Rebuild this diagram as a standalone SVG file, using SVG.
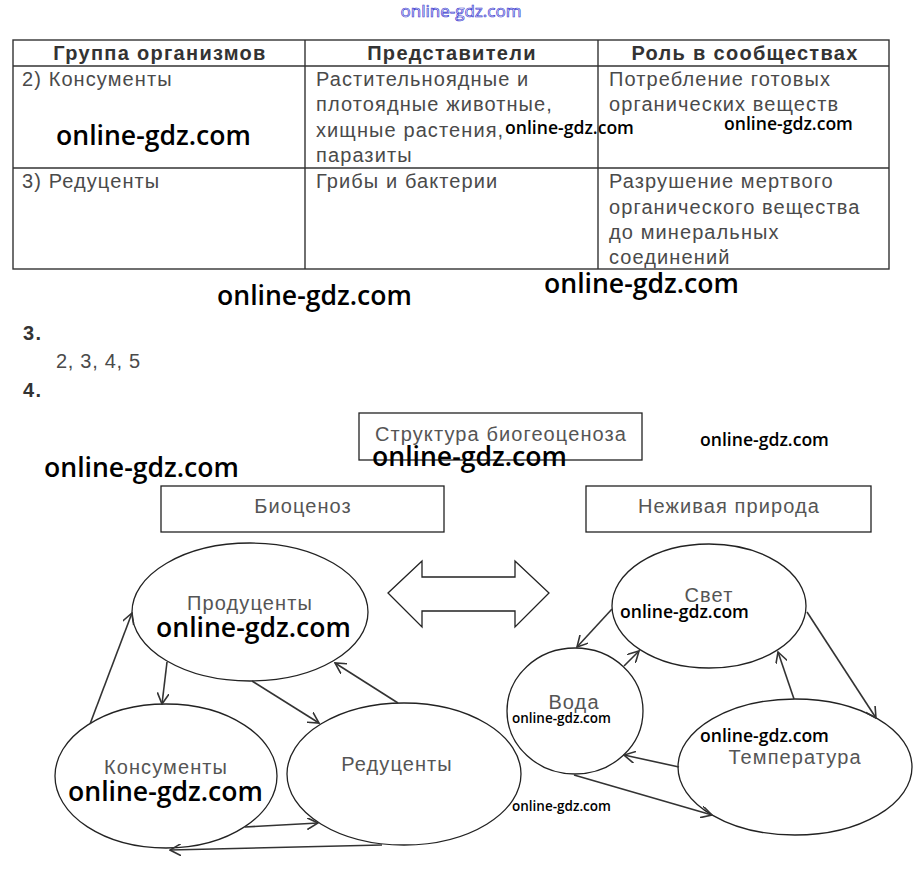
<svg xmlns="http://www.w3.org/2000/svg" width="922" height="873" viewBox="0 0 922 873">
<defs>
<style>
.t{font-family:"Liberation Sans",Arial,sans-serif;font-size:20px;letter-spacing:1.1px;fill:#4a4a4a}
.h{font-family:"Liberation Sans",Arial,sans-serif;font-size:20px;letter-spacing:1.3px;font-weight:bold;fill:#333}
.d{font-family:"Liberation Sans",Arial,sans-serif;font-size:20px;letter-spacing:1.1px;fill:#555;text-anchor:middle}
.wm{font-family:"Open Sans","DejaVu Sans",sans-serif;font-weight:600;fill:#000}
.big{font-size:26.6px}
.mid{font-size:17.6px}
.sm{font-size:13.5px}
.ln{stroke:#333;stroke-width:1.4;fill:none}
.sh{stroke:#222;stroke-width:1.3;fill:#fff}
.ar{stroke:#333;stroke-width:1.6;fill:none;marker-end:url(#v)}
</style>
<marker id="v" viewBox="0 0 12 12" refX="11" refY="6" markerWidth="12" markerHeight="12" markerUnits="userSpaceOnUse" orient="auto">
<path d="M0,0 L11,6 L0,12" fill="none" stroke="#333" stroke-width="1.6"/>
</marker>
</defs>
<rect width="922" height="873" fill="#fff"/>

<text x="461" y="17" text-anchor="middle" font-family="Open Sans, DejaVu Sans, sans-serif" font-size="17" fill="none" stroke="#3a3ad0" stroke-width="0.7">online-gdz.com</text>

<g id="table">
<rect x="13" y="40" width="876" height="229" class="ln"/>
<line x1="13" y1="66" x2="889" y2="66" class="ln"/>
<line x1="13" y1="168" x2="889" y2="168" class="ln"/>
<line x1="305" y1="40" x2="305" y2="269" class="ln"/>
<line x1="598" y1="40" x2="598" y2="269" class="ln"/>
<text x="160" y="60" class="h" text-anchor="middle">Группа организмов</text>
<text x="452" y="60" class="h" text-anchor="middle">Представители</text>
<text x="745" y="60" class="h" text-anchor="middle">Роль в сообществах</text>
<text x="22" y="86" class="t">2) Консументы</text>
<text x="316" y="86" class="t">Растительноядные и</text>
<text x="316" y="111" class="t">плотоядные животные,</text>
<text x="316" y="137" class="t">хищные растения,</text>
<text x="316" y="162" class="t">паразиты</text>
<text x="609" y="86" class="t">Потребление готовых</text>
<text x="609" y="111" class="t">органических веществ</text>
<text x="22" y="188" class="t">3) Редуценты</text>
<text x="316" y="188" class="t">Грибы и бактерии</text>
<text x="609" y="188" class="t">Разрушение мертвого</text>
<text x="609" y="214" class="t">органического вещества</text>
<text x="609" y="239" class="t">до минеральных</text>
<text x="609" y="264" class="t">соединений</text>
</g>

<text x="23" y="340" class="h">3.</text>
<text x="56" y="368" class="t" style="letter-spacing:0.7px">2, 3, 4, 5</text>
<text x="23" y="397" class="h">4.</text>

<g id="structure">
<rect x="359" y="413" width="283" height="47" class="sh"/>
<text x="501" y="441" class="d">Структура биогеоценоза</text>
</g>
<g id="biocenosis">
<rect x="161" y="486" width="283" height="46" class="sh"/>
<text x="303" y="513" class="d">Биоценоз</text>
</g>
<g id="nonliving">
<rect x="586" y="486" width="285" height="46" class="sh"/>
<text x="729" y="513" class="d">Неживая природа</text>
</g>
<g id="double-arrow">
<path d="M388,593 L422,561 L422,577 L515,577 L515,561 L549,593 L515,627 L515,611 L422,611 L422,627 Z" class="sh"/>
</g>

<g id="producers">
<ellipse cx="250" cy="612" rx="118" ry="69" class="sh"/>
<text x="250" y="610" class="d">Продуценты</text>
</g>
<g id="consumers">
<ellipse cx="166" cy="776" rx="111" ry="72" class="sh"/>
<text x="166" y="774" class="d">Консументы</text>
</g>
<g id="decomposers">
<ellipse cx="404" cy="774" rx="117" ry="71" class="sh"/>
<text x="397" y="771" class="d">Редуценты</text>
</g>
<g id="light">
<ellipse cx="709" cy="606" rx="97" ry="62" class="sh"/>
<text x="709" y="602" class="d">Свет</text>
</g>
<g id="water">
<ellipse cx="575" cy="711" rx="68" ry="63" class="sh"/>
<text x="574" y="709" class="d">Вода</text>
</g>
<g id="temperature">
<ellipse cx="795" cy="767" rx="117" ry="68" class="sh"/>
<text x="795" y="764" class="d">Температура</text>
</g>

<g id="connectors">
<line x1="90" y1="724" x2="132" y2="613" class="ar"/>
<line x1="167" y1="662" x2="162" y2="704" class="ar"/>
<line x1="252" y1="681" x2="319" y2="723" class="ar"/>
<line x1="398" y1="703" x2="335" y2="663" class="ar"/>
<line x1="245" y1="827" x2="318" y2="823" class="ar"/>
<line x1="382" y1="845" x2="170" y2="850" class="ar"/>
<line x1="612" y1="609" x2="577" y2="647" class="ar"/>
<line x1="624" y1="666" x2="639" y2="651" class="ar"/>
<line x1="807" y1="612" x2="876" y2="718" class="ar"/>
<line x1="794" y1="699" x2="778" y2="652" class="ar"/>
<line x1="679" y1="767" x2="624" y2="755" class="ar"/>
<line x1="574" y1="775" x2="712" y2="815" class="ar"/>
</g>

<g id="watermarks">
<text x="56" y="145" class="wm big">online-gdz.com</text>
<text x="505" y="134" class="wm mid">online-gdz.com</text>
<text x="724" y="130" class="wm mid">online-gdz.com</text>
<text x="217" y="305" class="wm big">online-gdz.com</text>
<text x="544" y="293" class="wm big">online-gdz.com</text>
<text x="700" y="446" class="wm mid">online-gdz.com</text>
<text x="372" y="466" class="wm big">online-gdz.com</text>
<text x="44" y="477" class="wm big">online-gdz.com</text>
<text x="156" y="637" class="wm big">online-gdz.com</text>
<text x="620" y="618" class="wm mid">online-gdz.com</text>
<text x="512" y="723" class="wm sm">online-gdz.com</text>
<text x="700" y="742" class="wm mid">online-gdz.com</text>
<text x="512" y="811" class="wm sm">online-gdz.com</text>
<text x="68" y="801" class="wm big">online-gdz.com</text>
</g>
</svg>
